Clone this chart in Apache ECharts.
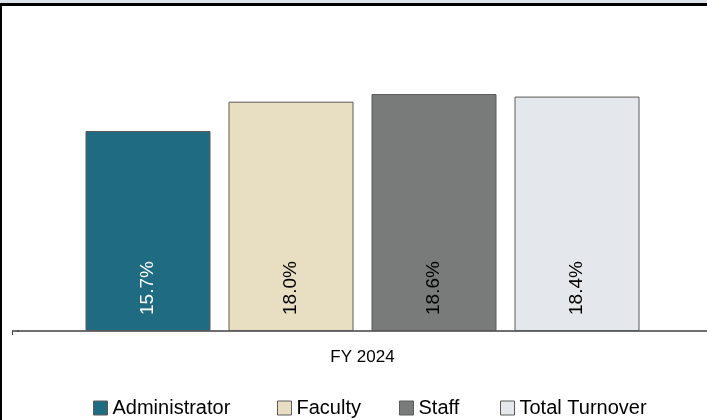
<!DOCTYPE html>
<html>
<head>
<meta charset="utf-8">
<script src="https://cdn.jsdelivr.net/npm/echarts@6/dist/echarts.min.js"></script>
<style>
  html, body { margin: 0; padding: 0; background: #fff; }
  #chart { width: 707px; height: 420px; }
</style>
</head>
<body>
<div id="chart"></div>
<script>
// data
const categories = ['FY 2024'];
const seriesNames = ['Administrator', 'Faculty', 'Staff', 'Total Turnover'];
const adminVals = [15.7];
const facultyVals = [18.0];
const staffVals = [18.6];
const totalVals = [18.4];

const colors = ['#1f6b82', '#e8dfc3', '#797b7b', '#e4e7eb'];
const labelColors = ['#ffffff', '#000000', '#000000', '#000000'];
const allVals = [adminVals, facultyVals, staffVals, totalVals];
// left edge of each legend icon
const legendLefts = [93, 277, 399, 500];

const font = '"Liberation Sans", "DejaVu Sans", sans-serif';

var chart = echarts.init(document.getElementById('chart'));

var series = seriesNames.map(function (name, i) {
    return {
        name: name,
        type: 'bar',
        data: allVals[i],
        barWidth: 125,
        barGap: '14.4%',
        itemStyle: {
            color: colors[i],
            borderColor: '#5a5a5a',
            borderWidth: 1
        },
        label: {
            show: true,
            position: 'insideBottom',
            rotate: 90,
            distance: 16,
            align: 'left',
            verticalAlign: 'middle',
            color: labelColors[i],
            fontFamily: font,
            fontSize: 19,
            formatter: function (p) { return p.value.toFixed(1) + '%'; }
        }
    };
});

var legends = seriesNames.map(function (name, i) {
    return {
        top: 398,
        left: legendLefts[i],
        itemWidth: 14,
        itemHeight: 14,
        icon: 'rect',
        padding: 0,
        textStyle: { fontFamily: font, fontSize: 20, color: '#000' },
        itemStyle: { borderColor: '#5a5a5a', borderWidth: 1 },
        data: [name]
    };
});

chart.setOption({
    animation: false,
    backgroundColor: '#fff',
    grid: { left: 18, right: 0, top: 12.5, bottom: 89 },
    legend: legends,
    xAxis: {
        type: 'category',
        data: categories,
        axisLine: { lineStyle: { color: '#404040', width: 1.5 } },
        axisTick: { show: false },
        axisLabel: { fontFamily: font, fontSize: 17, color: '#000', margin: 18 }
    },
    yAxis: {
        type: 'value',
        min: 0,
        max: 25,
        show: false,
        splitLine: { show: false }
    },
    series: series,
    graphic: [
        { type: 'rect', shape: { x: 0, y: 0, width: 707, height: 3 }, style: { fill: '#dde3ea' } },
        { type: 'rect', shape: { x: 0, y: 3, width: 707, height: 3 }, style: { fill: '#000' } },
        { type: 'rect', shape: { x: 0, y: 3, width: 2, height: 417 }, style: { fill: '#000' } },
        // axis line stub and left tick, where the category band begins
        { type: 'line', shape: { x1: 12, y1: 331, x2: 19, y2: 331 }, style: { stroke: '#404040', lineWidth: 1.5 } },
        { type: 'line', shape: { x1: 12.5, y1: 331, x2: 12.5, y2: 335 }, style: { stroke: '#404040', lineWidth: 1 } }
    ]
});
</script>
</body>
</html>
